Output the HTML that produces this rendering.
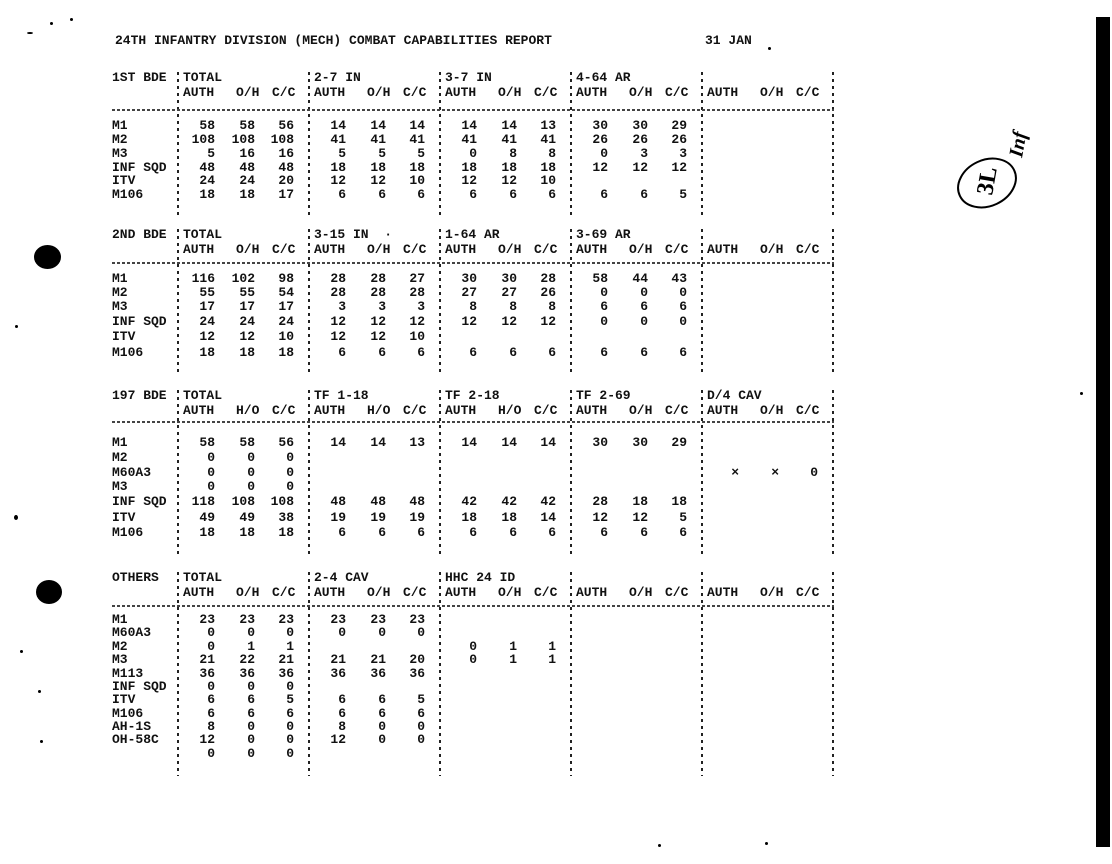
<!DOCTYPE html>
<html><head><meta charset="utf-8">
<style>
html,body{margin:0;padding:0;background:#fff;}
body{width:1112px;height:864px;position:relative;overflow:hidden;font-family:"Liberation Mono",monospace;font-size:13px;font-weight:bold;color:#111;}
.r{position:absolute;left:0;width:900px;height:16px;line-height:16px;white-space:pre;}
.L{position:absolute;left:112px;}
s{text-decoration:none;position:absolute;top:0;}
.c1{left:178px}.c2{left:309px}.c3{left:440px}.c4{left:571px}.c5{left:702px}
i{font-style:normal;position:absolute;width:40px;text-align:right;top:0}
.x{left:-3px}.y{left:37px}.z{left:76px}
b{position:absolute;left:5px;top:0;font-weight:bold}
b.o{left:58px}b.p{left:94px}
.v{position:absolute;width:2px;background:repeating-linear-gradient(#222 0 3px,transparent 3px 7px);}
.w{position:absolute;left:112px;width:722px;height:2px;background:repeating-linear-gradient(90deg,#444 0 3px,transparent 3px 5px);}
.dot{position:absolute;background:#000;border-radius:50%;}
</style></head><body>

<div class="r" style="top:33px"><span style="position:absolute;left:115px">24TH INFANTRY DIVISION (MECH) COMBAT CAPABILITIES REPORT</span><span style="position:absolute;left:705px">31 JAN</span></div>

<!-- separators -->
<div class="v" style="left:177px;top:72px;height:145px"></div><div class="v" style="left:308px;top:72px;height:145px"></div><div class="v" style="left:439px;top:72px;height:145px"></div><div class="v" style="left:570px;top:72px;height:145px"></div><div class="v" style="left:701px;top:72px;height:145px"></div><div class="v" style="left:832px;top:72px;height:145px"></div>
<div class="v" style="left:177px;top:229px;height:146px"></div><div class="v" style="left:308px;top:229px;height:146px"></div><div class="v" style="left:439px;top:229px;height:146px"></div><div class="v" style="left:570px;top:229px;height:146px"></div><div class="v" style="left:701px;top:229px;height:146px"></div><div class="v" style="left:832px;top:229px;height:146px"></div>
<div class="v" style="left:177px;top:390px;height:166px"></div><div class="v" style="left:308px;top:390px;height:166px"></div><div class="v" style="left:439px;top:390px;height:166px"></div><div class="v" style="left:570px;top:390px;height:166px"></div><div class="v" style="left:701px;top:390px;height:166px"></div><div class="v" style="left:832px;top:390px;height:166px"></div>
<div class="v" style="left:177px;top:572px;height:204px"></div><div class="v" style="left:308px;top:572px;height:204px"></div><div class="v" style="left:439px;top:572px;height:204px"></div><div class="v" style="left:570px;top:572px;height:204px"></div><div class="v" style="left:701px;top:572px;height:204px"></div><div class="v" style="left:832px;top:572px;height:204px"></div>

<!-- SECTION 1 -->
<div class="r" style="top:70px"><span class="L">1ST BDE</span><s class="c1"><b>TOTAL</b></s><s class="c2"><b>2-7 IN</b></s><s class="c3"><b>3-7 IN</b></s><s class="c4"><b>4-64 AR</b></s></div>
<div class="r" style="top:85px"><s class="c1"><b>AUTH</b><b class="o">O/H</b><b class="p">C/C</b></s><s class="c2"><b>AUTH</b><b class="o">O/H</b><b class="p">C/C</b></s><s class="c3"><b>AUTH</b><b class="o">O/H</b><b class="p">C/C</b></s><s class="c4"><b>AUTH</b><b class="o">O/H</b><b class="p">C/C</b></s><s class="c5"><b>AUTH</b><b class="o">O/H</b><b class="p">C/C</b></s></div>
<div class="w" style="top:109px"></div>
<div class="r" style="top:118px"><span class="L">M1</span><s class="c1"><i class="x">58</i><i class="y">58</i><i class="z">56</i></s><s class="c2"><i class="x">14</i><i class="y">14</i><i class="z">14</i></s><s class="c3"><i class="x">14</i><i class="y">14</i><i class="z">13</i></s><s class="c4"><i class="x">30</i><i class="y">30</i><i class="z">29</i></s></div>
<div class="r" style="top:132px"><span class="L">M2</span><s class="c1"><i class="x">108</i><i class="y">108</i><i class="z">108</i></s><s class="c2"><i class="x">41</i><i class="y">41</i><i class="z">41</i></s><s class="c3"><i class="x">41</i><i class="y">41</i><i class="z">41</i></s><s class="c4"><i class="x">26</i><i class="y">26</i><i class="z">26</i></s></div>
<div class="r" style="top:146px"><span class="L">M3</span><s class="c1"><i class="x">5</i><i class="y">16</i><i class="z">16</i></s><s class="c2"><i class="x">5</i><i class="y">5</i><i class="z">5</i></s><s class="c3"><i class="x">0</i><i class="y">8</i><i class="z">8</i></s><s class="c4"><i class="x">0</i><i class="y">3</i><i class="z">3</i></s></div>
<div class="r" style="top:160px"><span class="L">INF SQD</span><s class="c1"><i class="x">48</i><i class="y">48</i><i class="z">48</i></s><s class="c2"><i class="x">18</i><i class="y">18</i><i class="z">18</i></s><s class="c3"><i class="x">18</i><i class="y">18</i><i class="z">18</i></s><s class="c4"><i class="x">12</i><i class="y">12</i><i class="z">12</i></s></div>
<div class="r" style="top:173px"><span class="L">ITV</span><s class="c1"><i class="x">24</i><i class="y">24</i><i class="z">20</i></s><s class="c2"><i class="x">12</i><i class="y">12</i><i class="z">10</i></s><s class="c3"><i class="x">12</i><i class="y">12</i><i class="z">10</i></s></div>
<div class="r" style="top:187px"><span class="L">M106</span><s class="c1"><i class="x">18</i><i class="y">18</i><i class="z">17</i></s><s class="c2"><i class="x">6</i><i class="y">6</i><i class="z">6</i></s><s class="c3"><i class="x">6</i><i class="y">6</i><i class="z">6</i></s><s class="c4"><i class="x">6</i><i class="y">6</i><i class="z">5</i></s></div>

<!-- SECTION 2 -->
<div class="r" style="top:227px"><span class="L">2ND BDE</span><s class="c1"><b>TOTAL</b></s><s class="c2"><b>3-15 IN  ·</b></s><s class="c3"><b>1-64 AR</b></s><s class="c4"><b>3-69 AR</b></s></div>
<div class="r" style="top:242px"><s class="c1"><b>AUTH</b><b class="o">O/H</b><b class="p">C/C</b></s><s class="c2"><b>AUTH</b><b class="o">O/H</b><b class="p">C/C</b></s><s class="c3"><b>AUTH</b><b class="o">O/H</b><b class="p">C/C</b></s><s class="c4"><b>AUTH</b><b class="o">O/H</b><b class="p">C/C</b></s><s class="c5"><b>AUTH</b><b class="o">O/H</b><b class="p">C/C</b></s></div>
<div class="w" style="top:262px"></div>
<div class="r" style="top:271px"><span class="L">M1</span><s class="c1"><i class="x">116</i><i class="y">102</i><i class="z">98</i></s><s class="c2"><i class="x">28</i><i class="y">28</i><i class="z">27</i></s><s class="c3"><i class="x">30</i><i class="y">30</i><i class="z">28</i></s><s class="c4"><i class="x">58</i><i class="y">44</i><i class="z">43</i></s></div>
<div class="r" style="top:285px"><span class="L">M2</span><s class="c1"><i class="x">55</i><i class="y">55</i><i class="z">54</i></s><s class="c2"><i class="x">28</i><i class="y">28</i><i class="z">28</i></s><s class="c3"><i class="x">27</i><i class="y">27</i><i class="z">26</i></s><s class="c4"><i class="x">0</i><i class="y">0</i><i class="z">0</i></s></div>
<div class="r" style="top:299px"><span class="L">M3</span><s class="c1"><i class="x">17</i><i class="y">17</i><i class="z">17</i></s><s class="c2"><i class="x">3</i><i class="y">3</i><i class="z">3</i></s><s class="c3"><i class="x">8</i><i class="y">8</i><i class="z">8</i></s><s class="c4"><i class="x">6</i><i class="y">6</i><i class="z">6</i></s></div>
<div class="r" style="top:314px"><span class="L">INF SQD</span><s class="c1"><i class="x">24</i><i class="y">24</i><i class="z">24</i></s><s class="c2"><i class="x">12</i><i class="y">12</i><i class="z">12</i></s><s class="c3"><i class="x">12</i><i class="y">12</i><i class="z">12</i></s><s class="c4"><i class="x">0</i><i class="y">0</i><i class="z">0</i></s></div>
<div class="r" style="top:329px"><span class="L">ITV</span><s class="c1"><i class="x">12</i><i class="y">12</i><i class="z">10</i></s><s class="c2"><i class="x">12</i><i class="y">12</i><i class="z">10</i></s></div>
<div class="r" style="top:345px"><span class="L">M106</span><s class="c1"><i class="x">18</i><i class="y">18</i><i class="z">18</i></s><s class="c2"><i class="x">6</i><i class="y">6</i><i class="z">6</i></s><s class="c3"><i class="x">6</i><i class="y">6</i><i class="z">6</i></s><s class="c4"><i class="x">6</i><i class="y">6</i><i class="z">6</i></s></div>

<!-- SECTION 3 -->
<div class="r" style="top:388px"><span class="L">197 BDE</span><s class="c1"><b>TOTAL</b></s><s class="c2"><b>TF 1-18</b></s><s class="c3"><b>TF 2-18</b></s><s class="c4"><b>TF 2-69</b></s><s class="c5"><b>D/4 CAV</b></s></div>
<div class="r" style="top:403px"><s class="c1"><b>AUTH</b><b class="o">H/O</b><b class="p">C/C</b></s><s class="c2"><b>AUTH</b><b class="o">H/O</b><b class="p">C/C</b></s><s class="c3"><b>AUTH</b><b class="o">H/O</b><b class="p">C/C</b></s><s class="c4"><b>AUTH</b><b class="o">O/H</b><b class="p">C/C</b></s><s class="c5"><b>AUTH</b><b class="o">O/H</b><b class="p">C/C</b></s></div>
<div class="w" style="top:421px"></div>
<div class="r" style="top:435px"><span class="L">M1</span><s class="c1"><i class="x">58</i><i class="y">58</i><i class="z">56</i></s><s class="c2"><i class="x">14</i><i class="y">14</i><i class="z">13</i></s><s class="c3"><i class="x">14</i><i class="y">14</i><i class="z">14</i></s><s class="c4"><i class="x">30</i><i class="y">30</i><i class="z">29</i></s></div>
<div class="r" style="top:450px"><span class="L">M2</span><s class="c1"><i class="x">0</i><i class="y">0</i><i class="z">0</i></s></div>
<div class="r" style="top:465px"><span class="L">M60A3</span><s class="c1"><i class="x">0</i><i class="y">0</i><i class="z">0</i></s><s class="c5"><i class="x">×</i><i class="y">×</i><i class="z">0</i></s></div>
<div class="r" style="top:479px"><span class="L">M3</span><s class="c1"><i class="x">0</i><i class="y">0</i><i class="z">0</i></s></div>
<div class="r" style="top:494px"><span class="L">INF SQD</span><s class="c1"><i class="x">118</i><i class="y">108</i><i class="z">108</i></s><s class="c2"><i class="x">48</i><i class="y">48</i><i class="z">48</i></s><s class="c3"><i class="x">42</i><i class="y">42</i><i class="z">42</i></s><s class="c4"><i class="x">28</i><i class="y">18</i><i class="z">18</i></s></div>
<div class="r" style="top:510px"><span class="L">ITV</span><s class="c1"><i class="x">49</i><i class="y">49</i><i class="z">38</i></s><s class="c2"><i class="x">19</i><i class="y">19</i><i class="z">19</i></s><s class="c3"><i class="x">18</i><i class="y">18</i><i class="z">14</i></s><s class="c4"><i class="x">12</i><i class="y">12</i><i class="z">5</i></s></div>
<div class="r" style="top:525px"><span class="L">M106</span><s class="c1"><i class="x">18</i><i class="y">18</i><i class="z">18</i></s><s class="c2"><i class="x">6</i><i class="y">6</i><i class="z">6</i></s><s class="c3"><i class="x">6</i><i class="y">6</i><i class="z">6</i></s><s class="c4"><i class="x">6</i><i class="y">6</i><i class="z">6</i></s></div>

<!-- SECTION 4 -->
<div class="r" style="top:570px"><span class="L">OTHERS</span><s class="c1"><b>TOTAL</b></s><s class="c2"><b>2-4 CAV</b></s><s class="c3"><b>HHC 24 ID</b></s></div>
<div class="r" style="top:585px"><s class="c1"><b>AUTH</b><b class="o">O/H</b><b class="p">C/C</b></s><s class="c2"><b>AUTH</b><b class="o">O/H</b><b class="p">C/C</b></s><s class="c3"><b>AUTH</b><b class="o">O/H</b><b class="p">C/C</b></s><s class="c4"><b>AUTH</b><b class="o">O/H</b><b class="p">C/C</b></s><s class="c5"><b>AUTH</b><b class="o">O/H</b><b class="p">C/C</b></s></div>
<div class="w" style="top:605px"></div>
<div class="r" style="top:612px"><span class="L">M1</span><s class="c1"><i class="x">23</i><i class="y">23</i><i class="z">23</i></s><s class="c2"><i class="x">23</i><i class="y">23</i><i class="z">23</i></s></div>
<div class="r" style="top:625px"><span class="L">M60A3</span><s class="c1"><i class="x">0</i><i class="y">0</i><i class="z">0</i></s><s class="c2"><i class="x">0</i><i class="y">0</i><i class="z">0</i></s></div>
<div class="r" style="top:639px"><span class="L">M2</span><s class="c1"><i class="x">0</i><i class="y">1</i><i class="z">1</i></s><s class="c3"><i class="x">0</i><i class="y">1</i><i class="z">1</i></s></div>
<div class="r" style="top:652px"><span class="L">M3</span><s class="c1"><i class="x">21</i><i class="y">22</i><i class="z">21</i></s><s class="c2"><i class="x">21</i><i class="y">21</i><i class="z">20</i></s><s class="c3"><i class="x">0</i><i class="y">1</i><i class="z">1</i></s></div>
<div class="r" style="top:666px"><span class="L">M113</span><s class="c1"><i class="x">36</i><i class="y">36</i><i class="z">36</i></s><s class="c2"><i class="x">36</i><i class="y">36</i><i class="z">36</i></s></div>
<div class="r" style="top:679px"><span class="L">INF SQD</span><s class="c1"><i class="x">0</i><i class="y">0</i><i class="z">0</i></s></div>
<div class="r" style="top:692px"><span class="L">ITV</span><s class="c1"><i class="x">6</i><i class="y">6</i><i class="z">5</i></s><s class="c2"><i class="x">6</i><i class="y">6</i><i class="z">5</i></s></div>
<div class="r" style="top:706px"><span class="L">M106</span><s class="c1"><i class="x">6</i><i class="y">6</i><i class="z">6</i></s><s class="c2"><i class="x">6</i><i class="y">6</i><i class="z">6</i></s></div>
<div class="r" style="top:719px"><span class="L">AH-1S</span><s class="c1"><i class="x">8</i><i class="y">0</i><i class="z">0</i></s><s class="c2"><i class="x">8</i><i class="y">0</i><i class="z">0</i></s></div>
<div class="r" style="top:732px"><span class="L">OH-58C</span><s class="c1"><i class="x">12</i><i class="y">0</i><i class="z">0</i></s><s class="c2"><i class="x">12</i><i class="y">0</i><i class="z">0</i></s></div>
<div class="r" style="top:746px"><s class="c1"><i class="x">0</i><i class="y">0</i><i class="z">0</i></s></div>

<!-- decorations -->
<div style="position:absolute;left:1096px;top:17px;width:14px;height:830px;background:#000"></div>
<div class="dot" style="left:34px;top:245px;width:27px;height:24px"></div>
<div class="dot" style="left:36px;top:580px;width:26px;height:24px"></div>
<div class="dot" style="left:50px;top:22px;width:3px;height:3px"></div>
<div class="dot" style="left:70px;top:18px;width:3px;height:3px"></div>
<div class="dot" style="left:27px;top:32px;width:6px;height:2px"></div>
<div class="dot" style="left:15px;top:325px;width:3px;height:3px"></div>
<div class="dot" style="left:14px;top:515px;width:4px;height:5px"></div>
<div class="dot" style="left:20px;top:650px;width:3px;height:3px"></div>
<div class="dot" style="left:38px;top:690px;width:3px;height:3px"></div>
<div class="dot" style="left:40px;top:740px;width:3px;height:3px"></div>
<div class="dot" style="left:658px;top:844px;width:3px;height:3px"></div>
<div class="dot" style="left:765px;top:842px;width:3px;height:3px"></div>
<div class="dot" style="left:768px;top:47px;width:3px;height:3px"></div>
<div class="dot" style="left:1080px;top:392px;width:3px;height:3px"></div>
<svg style="position:absolute;left:940px;top:100px" width="120" height="120" viewBox="0 0 120 120">
<ellipse cx="47" cy="83" rx="30" ry="23" transform="rotate(-25 47 83)" fill="none" stroke="#000" stroke-width="2"/>
<text x="0" y="0" transform="translate(52 96) rotate(-80)" font-family="Liberation Serif, serif" font-size="24" fill="#000">3L</text>
<text x="0" y="0" transform="translate(82 58) rotate(-80)" font-family="Liberation Serif, serif" font-style="italic" font-size="20" fill="#000">Inf</text>
</svg>
</body></html>
